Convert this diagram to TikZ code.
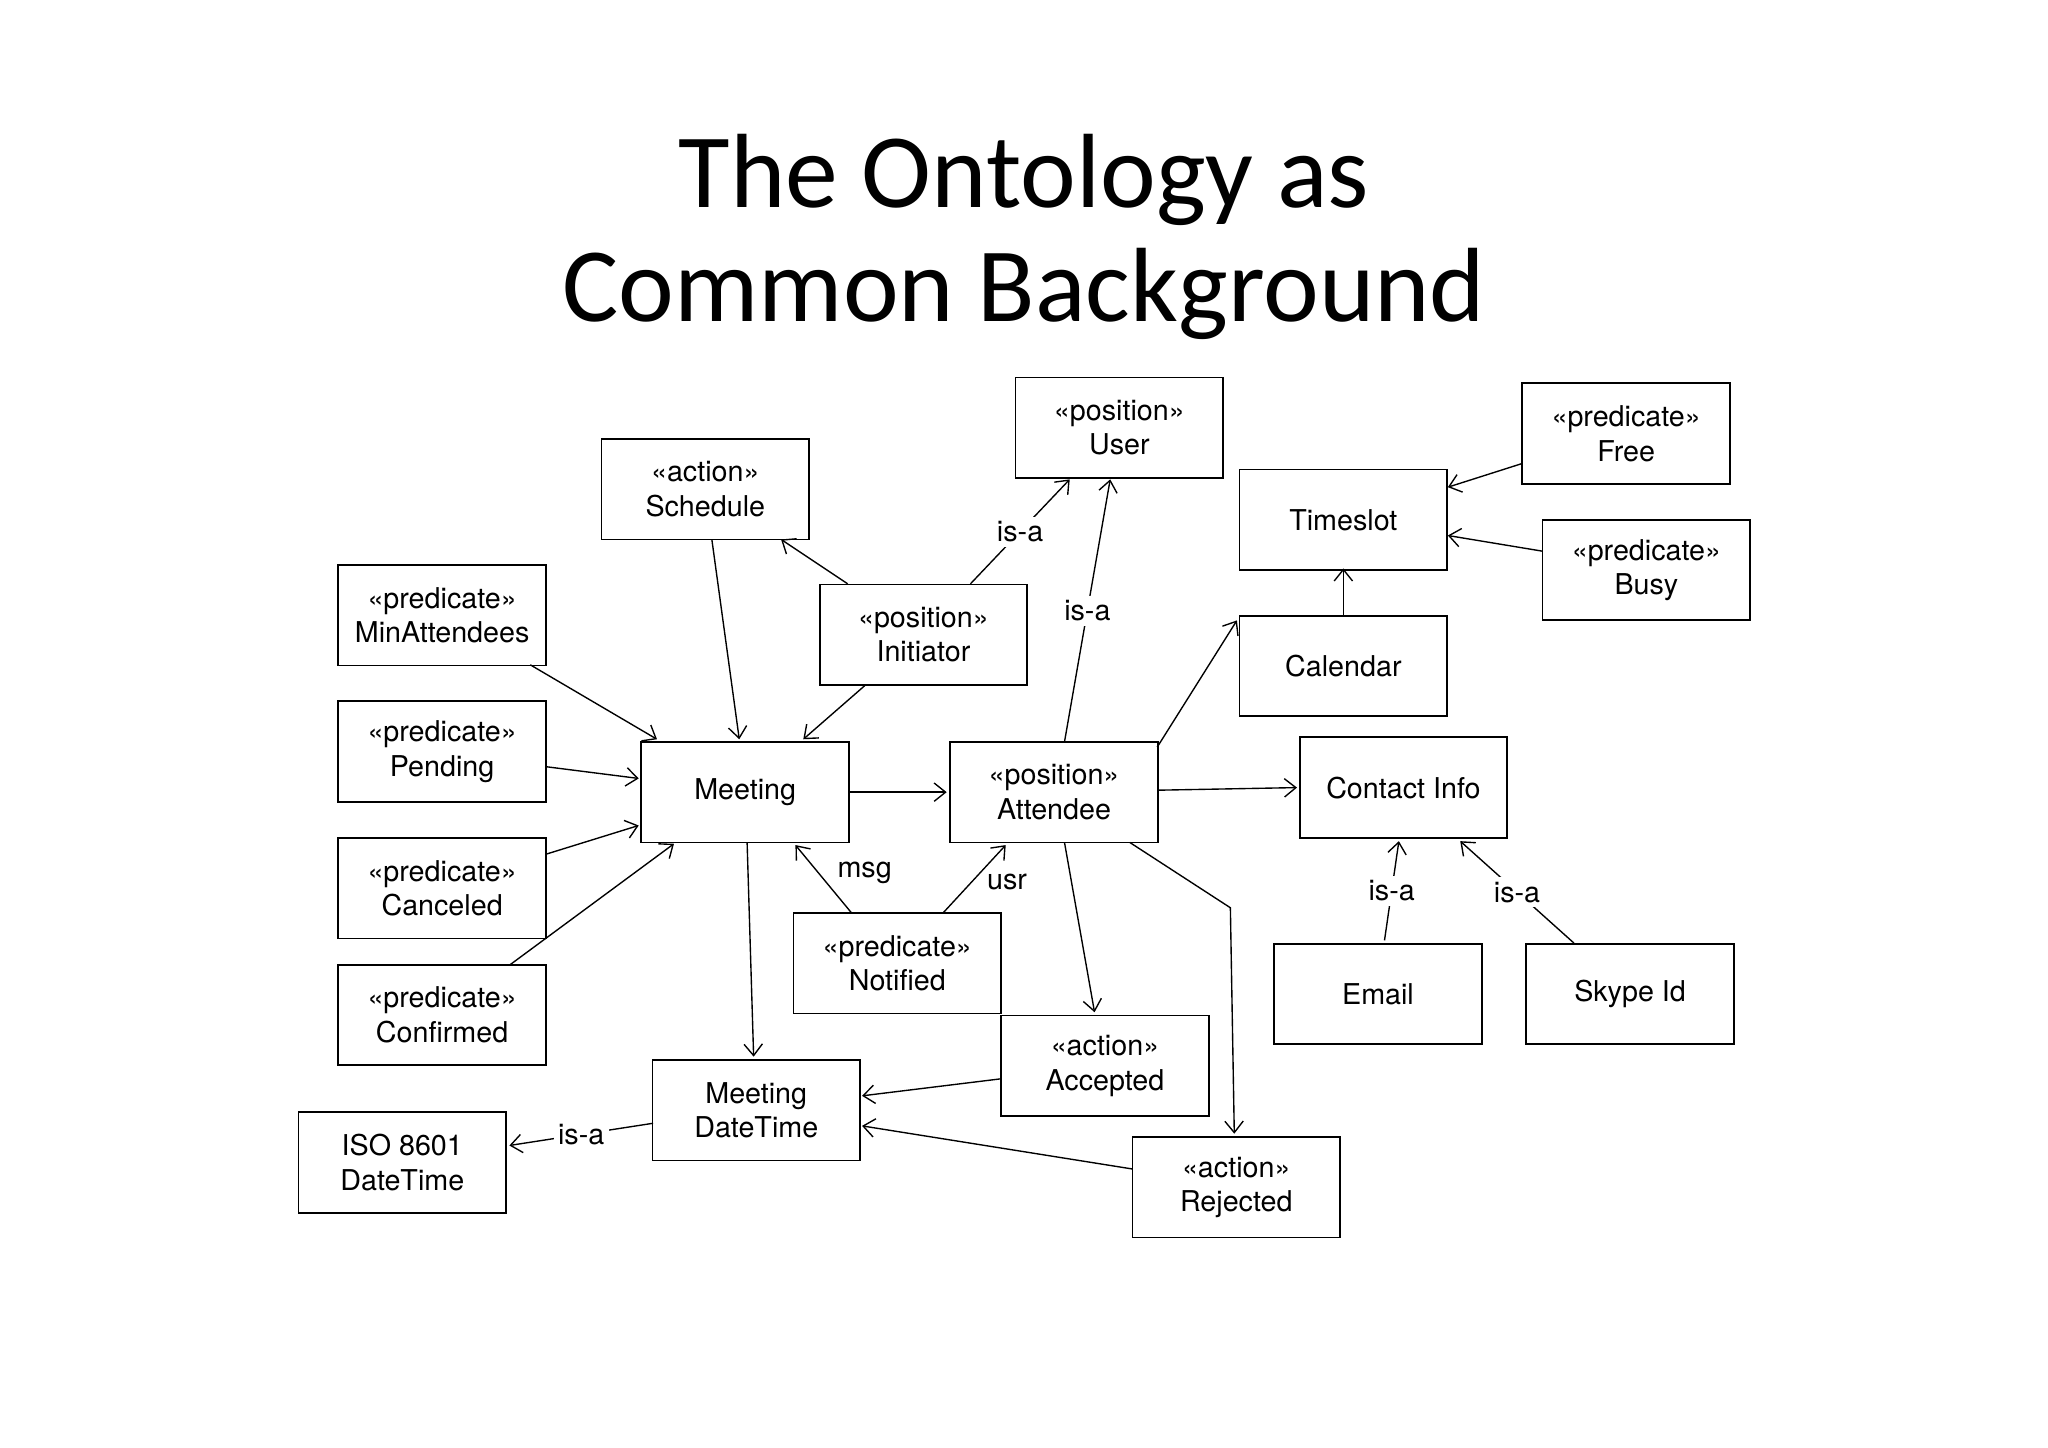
\documentclass[tikz,border=0pt]{standalone}
\usepackage{fontspec}
\setmainfont{TeX Gyre Heros}
\newfontfamily\titlefont{Carlito}
\usetikzlibrary{arrows.meta,calc}
\begin{document}
\begin{tikzpicture}[x=0.02cm,y=-0.02cm,
  box/.style={draw,line width=0.8pt,minimum width=3.18cm,minimum height=1.54cm,inner sep=0pt,align=center,font=\fontsize{12.5}{15}\selectfont},
  arr/.style={-{Straight Barb[length=5pt,width=8pt]},line width=0.6pt},
  lab/.style={fill=white,inner sep=2pt,font=\fontsize{12.5}{15}\selectfont},
  plab/.style={inner sep=0pt,font=\fontsize{12.5}{15}\selectfont}]
\useasboundingbox (0,0) rectangle (1568,1108);
\node[font=\titlefont\fontsize{46}{50}\selectfont] (t1) at (784,138) {The Ontology as};
\node[font=\titlefont\fontsize{46}{50}\selectfont] (t2) at (784,225) {Common Background};
\node[box] (sched) at (540,374.5) {<<action>>\\Schedule};
\node[box] (user) at (857,327.5) {<<position>>\\User};
\node[box] (free) at (1245,332) {<<predicate>>\\Free};
\node[box] (timeslot) at (1028.5,398) {Timeslot};
\node[box] (busy) at (1260.5,436.5) {<<predicate>>\\Busy};
\node[box] (minatt) at (338.5,471) {<<predicate>>\\MinAttendees};
\node[box] (init) at (707,486) {<<position>>\\Initiator};
\node[box] (cal) at (1028.5,510) {Calendar};
\node[box] (pend) at (338.5,575.5) {<<predicate>>\\Pending};
\node[box] (meet) at (570.5,606.5) {Meeting};
\node[box] (att) at (807,606.5) {<<position>>\\Attendee};
\node[box] (contact) at (1074.5,603) {Contact Info};
\node[box] (canc) at (338.5,680) {<<predicate>>\\Canceled};
\node[box] (notif) at (687,737.5) {<<predicate>>\\Notified};
\node[box] (email) at (1055,761) {Email};
\node[box] (skype) at (1248,761) {Skype Id};
\node[box] (conf) at (338.5,777) {<<predicate>>\\Confirmed};
\node[box] (acc) at (846,816) {<<action>>\\Accepted};
\node[box] (mdt) at (579,850) {Meeting\\DateTime};
\node[box] (iso) at (308,890) {ISO 8601\\DateTime};
\node[box] (rej) at (946.5,909) {<<action>>\\Rejected};
\coordinate (bend) at ($(rej)+(-4.5,-214)$);

\draw[arr] ($(sched)+(5,38.5)$) -- ($(meet)+(-4.5,-40.5)$);
\draw[arr] ($(init)+(-58,-39)$) -- ($(sched)+(58,38.5)$);
\draw[arr] ($(init)+(36,-39)$) -- node[lab,midway]{is-a} ($(user)+(-38,39.5)$);
\draw[arr] ($(init)+(-45,39)$) -- ($(meet)+(44.5,-40.5)$);
\draw[arr] ($(att)+(8,-38.5)$) -- node[lab,midway]{is-a} ($(user)+(-7,39.5)$);
\draw[arr] ($(minatt)+(67.5,38)$) -- ($(meet)+(-67.5,-40.5)$);
\draw[arr] ($(pend)+(79.5,11.5)$) -- ($(meet)+(-81.5,-10.5)$);
\draw[arr] ($(canc)+(79.5,-26)$) -- ($(meet)+(-81.5,25.5)$);
\draw[arr] ($(conf)+(51.5,-38)$) -- ($(meet)+(-54.5,39.5)$);
\draw[arr] (meet.east) -- ($(att.west)+(-2,0)$);
\draw[arr] ($(meet)+(1.5,38.5)$) -- ($(mdt)+(-2,-41)$);
\draw[arr] ($(notif)+(-35,-38.5)$) -- node[plab,midway,xshift=0.63cm,yshift=0.1cm]{msg} ($(meet)+(38.5,40.5)$);
\draw[arr] ($(notif)+(35,-38.5)$) -- node[plab,midway,xshift=0.5cm,yshift=-0.04cm]{usr} ($(att)+(-37,40.5)$);
\draw[arr] ($(att)+(79,-34.5)$) -- ($(cal)+(-81.5,-35)$);
\draw[arr] ($(att)+(79,-1.5)$) -- ($(contact)+(-81.5,0)$);
\draw[arr] ($(att)+(8,38.5)$) -- ($(acc)+(-8,-41)$);
\draw[arr] ($(att)+(58,38.5)$) -- (bend) -- ($(rej)+(-1.5,-41)$);
\draw[arr] (cal.north) -- ($(timeslot.south)+(0,-2)$);
\draw[arr] ($(free)+(-80,23)$) -- ($(timeslot)+(80,-25)$);
\draw[arr] ($(busy)+(-79.5,-14.5)$) -- ($(timeslot)+(80,12)$);
\draw[arr] ($(email)+(5,-41)$) -- node[lab,midway]{is-a} ($(contact)+(-3.5,41)$);
\draw[arr] ($(skype)+(-43,-39)$) -- node[lab,midway]{is-a} ($(contact)+(43.5,41)$);
\draw[arr] ($(acc)+(-80,10)$) -- ($(mdt)+(81,-11)$);
\draw[arr] ($(rej)+(-79.5,-14)$) -- ($(mdt)+(81,12)$);
\draw[arr] ($(mdt)+(-79,10)$) -- node[lab,midway]{is-a} ($(iso)+(82,-13)$);
\end{tikzpicture}
\end{document}
